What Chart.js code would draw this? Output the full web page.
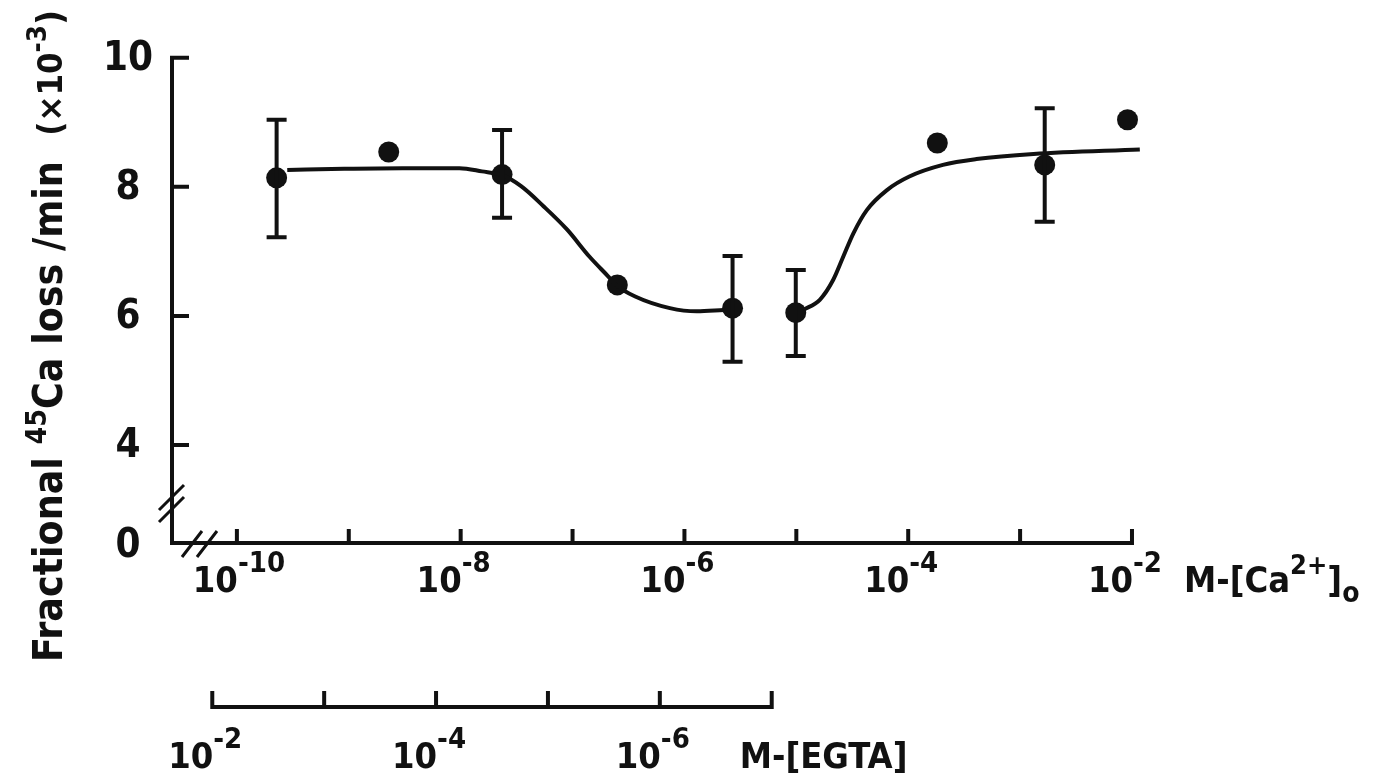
<!DOCTYPE html>
<html>
<head>
<meta charset="utf-8">
<script src="https://cdn.jsdelivr.net/npm/chart.js@4.4.1/dist/chart.umd.min.js"></script>
<style>
  html, body { margin: 0; padding: 0; background: #fff; }
  #chartRef { display: block; }
</style>
</head>
<body>
<canvas id="chartRef" width="1399" height="774"></canvas>
<script>
// log10 of [Ca2+]o (M) for each measured point
const caLog = [-9.645, -8.643, -7.63, -6.6, -5.57, -5.005, -3.74, -2.78, -2.04];
// fractional 45Ca loss /min (x10^-3)
const lossMean = [8.14, 8.54, 8.19, 6.48, 6.12, 6.05, 8.68, 8.34, 9.04];
const lossHigh = [9.04, null, 8.88, null, 6.93, 6.71, null, 9.22, null];
const lossLow = [7.22, null, 7.52, null, 5.29, 5.38, null, 7.46, null];

// fitted curves
const fitLeftLog = [-9.55, -9.04, -8.52, -8.01, -7.81, -7.63, -7.46, -7.26, -7.05, -6.85, -6.68, -6.61, -6.44, -6.13, -5.89, -5.65];
const fitLeftLoss = [8.26, 8.28, 8.29, 8.29, 8.24, 8.18, 8.01, 7.70, 7.34, 6.92, 6.61, 6.48, 6.30, 6.12, 6.07, 6.09];
const fitRightLog = [-4.94, -4.79, -4.67, -4.58, -4.49, -4.37, -4.19, -3.99, -3.69, -3.39, -2.88, -1.93];
const fitRightLoss = [6.09, 6.25, 6.56, 6.92, 7.28, 7.64, 7.95, 8.16, 8.34, 8.43, 8.51, 8.58];

// axes
const yTicks = [4, 6, 8, 10];
const yZeroAt = 2.48; // broken axis: "0" is drawn here
const caTicks = [-10, -9, -8, -7, -6, -5, -4, -3, -2];
const caLabels = [-10, -8, -6, -4, -2];
const egtaTicks = [-2, -3, -4, -5, -6, -7];
const egtaLabels = [-2, -4, -6];
const egtaShift = -12.22; // EGTA log e lines up with Ca log (egtaShift - e)

const numFont = "'Liberation Sans Narrow','DejaVu Sans Condensed','Liberation Sans',sans-serif";
const ink = "#111";

const toPoints = (xs, ys) => xs.map((x, i) => ({ x: x, y: ys[i] }));

// draws "10" with a superscript exponent, base right edge at x
const drawPower = (ctx, exp, x, y, size) => {
    ctx.textBaseline = "alphabetic";
    ctx.font = `bold ${size}px ${numFont}`;
    ctx.textAlign = "right";
    ctx.fillText("10", x + 1, y);
    ctx.font = `bold ${Math.round(size * 0.8)}px ${numFont}`;
    ctx.textAlign = "left";
    ctx.fillText("-" + Math.abs(exp), x + 1, y - size * 0.55);
};

// rich text runs: [text, size, rise]
const drawRuns = (ctx, runs, x, y) => {
    ctx.textAlign = "left";
    ctx.textBaseline = "alphabetic";
    let cx = x;
    runs.forEach(([text, size, rise]) => {
        ctx.font = `bold ${size}px ${numFont}`;
        ctx.fillText(text, cx, y - rise);
        cx += ctx.measureText(text).width;
    });
    return cx - x;
};

const runsWidth = (ctx, runs) => {
    let w = 0;
    runs.forEach(([text, size]) => {
        ctx.font = `bold ${size}px ${numFont}`;
        w += ctx.measureText(text).width;
    });
    return w;
};

const errorBars = {
    id: "errorBars",
    afterDatasetsDraw(chart) {
        const { ctx, scales: { x, y } } = chart;
        ctx.save();
        ctx.strokeStyle = ink;
        ctx.lineWidth = 4;
        ctx.lineCap = "butt";
        caLog.forEach((c, i) => {
            if (lossHigh[i] === null) return;
            const px = x.getPixelForValue(c);
            const top = y.getPixelForValue(lossHigh[i]);
            const bot = y.getPixelForValue(lossLow[i]);
            ctx.beginPath();
            ctx.moveTo(px, top);
            ctx.lineTo(px, bot);
            ctx.moveTo(px - 10, top);
            ctx.lineTo(px + 10, top);
            ctx.moveTo(px - 10, bot);
            ctx.lineTo(px + 10, bot);
            ctx.stroke();
        });
        ctx.restore();
    },
};

const axesDraw = {
    id: "axesDraw",
    afterDraw(chart) {
        const { ctx, scales: { x, y } } = chart;
        const x0 = x.getPixelForValue(x.min);
        const yBase = y.getPixelForValue(yZeroAt);
        const yTop = y.getPixelForValue(10);
        const xEnd = x.getPixelForValue(-2);
        ctx.save();
        ctx.strokeStyle = ink;
        ctx.fillStyle = ink;
        ctx.lineWidth = 4;
        ctx.lineCap = "square";

        // y axis + inward ticks
        ctx.beginPath();
        ctx.moveTo(x0, yTop);
        ctx.lineTo(x0, yBase);
        ctx.lineTo(xEnd, yBase);
        ctx.lineTo(xEnd, yBase - 12);
        yTicks.forEach((v) => {
            const py = y.getPixelForValue(v);
            ctx.moveTo(x0, py);
            ctx.lineTo(x0 + 15, py);
        });
        caTicks.forEach((c) => {
            const px = x.getPixelForValue(c);
            ctx.moveTo(px, yBase);
            ctx.lineTo(px, yBase - 12);
        });
        ctx.stroke();

        // break marks
        ctx.lineWidth = 3;
        ctx.lineCap = "butt";
        const yb = (y.getPixelForValue(4) + yBase) / 2 + 9;
        ctx.beginPath();
        [-6, 6].forEach((d) => {
            ctx.moveTo(x0 - 13, yb + d + 13);
            ctx.lineTo(x0 + 12, yb + d - 12);
        });
        [0, 15].forEach((d) => {
            ctx.moveTo(x0 + 10 + d, yBase + 14);
            ctx.lineTo(x0 + 30 + d, yBase - 12);
        });
        ctx.stroke();

        // y tick labels
        ctx.textAlign = "center";
        ctx.textBaseline = "middle";
        ctx.font = `bold 40px ${numFont}`;
        yTicks.forEach((v) => ctx.fillText(String(v), 128, y.getPixelForValue(v) + 2));
        ctx.fillText("0", 128, yBase + 4);

        // Ca axis labels
        caLabels.forEach((c) => drawPower(ctx, c, x.getPixelForValue(c), yBase + 49, 36));
        drawRuns(ctx, [["M-[Ca", 36, 0], ["2+", 27, 18], ["]", 36, 0], ["o", 28, -10]], xEnd + 52, yBase + 49);

        // EGTA axis, aligned on the Ca scale
        const yE = 707;
        const eStart = x.getPixelForValue(egtaShift - egtaTicks[0]);
        const eEnd = x.getPixelForValue(egtaShift - egtaTicks[egtaTicks.length - 1]);
        ctx.lineWidth = 4;
        ctx.lineCap = "square";
        ctx.beginPath();
        ctx.moveTo(eStart, yE);
        ctx.lineTo(eEnd, yE);
        egtaTicks.forEach((e) => {
            const px = x.getPixelForValue(egtaShift - e);
            ctx.moveTo(px, yE);
            ctx.lineTo(px, yE - 14);
        });
        ctx.stroke();
        egtaLabels.forEach((e) => drawPower(ctx, e, x.getPixelForValue(egtaShift - e), 768, 36));
        drawRuns(ctx, [["M-[EGTA]", 36, 0]], eEnd - 32, 768);

        // y title, rotated
        const runs = [
            ["Fractional ", 40, 0],
            ["45", 28, 16],
            ["Ca loss /min  ", 40, 0],
            ["(\u00d710", 34, 0],
            ["-3", 27, 16],
            [")", 36, 0],
        ];
        const span = 652;
        const fit = span / runsWidth(ctx, runs);
        ctx.translate(62, 662);
        ctx.rotate(-Math.PI / 2);
        ctx.scale(fit, 1);
        drawRuns(ctx, runs, 0, 0);
        ctx.restore();
    },
};

document.addEventListener("DOMContentLoaded", () => {
    const chartRef = document.getElementById("chartRef");
    const ctx = chartRef.getContext("2d");

    chartRef.chart = new Chart(ctx, {
        type: "scatter",
        data: {
            datasets: [
                {
                    type: "line",
                    data: toPoints(fitLeftLog, fitLeftLoss),
                    borderColor: ink,
                    borderWidth: 4,
                    pointRadius: 0,
                    cubicInterpolationMode: "monotone",
                    fill: false,
                    clip: false,
                },
                {
                    type: "line",
                    data: toPoints(fitRightLog, fitRightLoss),
                    borderColor: ink,
                    borderWidth: 4,
                    pointRadius: 0,
                    cubicInterpolationMode: "monotone",
                    fill: false,
                    clip: false,
                },
                {
                    data: toPoints(caLog, lossMean),
                    backgroundColor: ink,
                    borderWidth: 0,
                    pointRadius: 10.5,
                    showLine: false,
                    clip: false,
                },
            ],
        },
        options: {
            responsive: false,
            animation: false,
            devicePixelRatio: 1,
            layout: { padding: { left: 172, right: 249, top: 32, bottom: 231 } },
            plugins: { legend: { display: false }, tooltip: { enabled: false } },
            scales: {
                x: { type: "linear", min: -10.58, max: -1.839, display: false },
                y: { type: "linear", min: yZeroAt, max: 10.4, display: false },
            },
        },
        plugins: [errorBars, axesDraw],
    });
});
</script>
</body>
</html>
